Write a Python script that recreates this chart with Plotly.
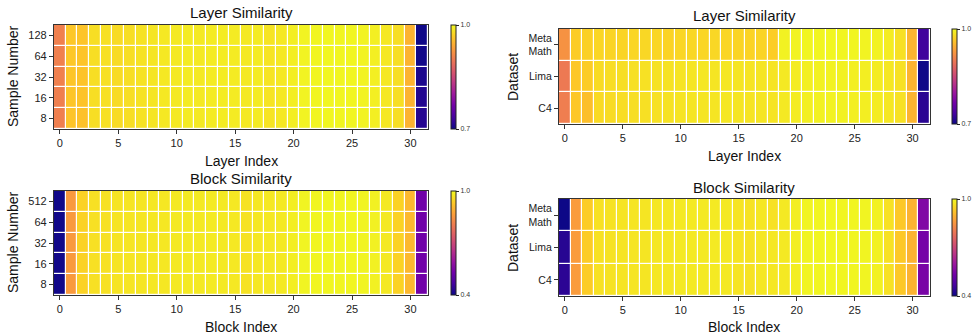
import plotly.graph_objects as go

W, H = 979, 335

layer_idx = list(range(32))
sample_labels_layer = ["8", "16", "32", "64", "128"]
sample_labels_block = ["8", "16", "32", "64", "512"]
dataset_labels = ["C4", "Lima", "Meta<br>Math"]
x_tick_vals = [0, 5, 10, 15, 20, 25, 30]

# Layer similarity vs sample number (rows: 8,16,32,64,128)
ls_s8 = [0.905, 0.962, 0.960, 0.981, 0.982, 0.979, 0.981, 0.984, 0.986, 0.988, 0.989, 0.990, 0.989, 0.990, 0.991, 0.990,
         0.989, 0.990, 0.985, 0.988, 0.992, 0.996, 0.997, 0.998, 0.997, 0.997, 0.996, 0.993, 0.988, 0.981, 0.949, 0.714]
ls_s16 = [0.905, 0.963, 0.961, 0.981, 0.982, 0.979, 0.981, 0.984, 0.986, 0.988, 0.989, 0.990, 0.989, 0.990, 0.991, 0.990,
          0.989, 0.990, 0.985, 0.988, 0.992, 0.996, 0.997, 0.998, 0.997, 0.997, 0.996, 0.993, 0.988, 0.981, 0.949, 0.712]
ls_s32 = [0.906, 0.963, 0.961, 0.981, 0.982, 0.979, 0.981, 0.984, 0.986, 0.988, 0.989, 0.990, 0.989, 0.990, 0.991, 0.990,
          0.989, 0.990, 0.985, 0.988, 0.992, 0.996, 0.997, 0.998, 0.997, 0.997, 0.996, 0.993, 0.988, 0.981, 0.949, 0.708]
ls_s64 = [0.906, 0.964, 0.962, 0.981, 0.982, 0.979, 0.981, 0.984, 0.986, 0.988, 0.989, 0.990, 0.989, 0.990, 0.991, 0.990,
          0.989, 0.990, 0.985, 0.988, 0.992, 0.996, 0.997, 0.998, 0.997, 0.997, 0.996, 0.993, 0.988, 0.981, 0.949, 0.703]
ls_s128 = [0.906, 0.964, 0.962, 0.981, 0.982, 0.979, 0.981, 0.984, 0.986, 0.988, 0.989, 0.990, 0.989, 0.990, 0.991, 0.990,
           0.989, 0.990, 0.985, 0.988, 0.992, 0.996, 0.997, 0.998, 0.997, 0.997, 0.996, 0.993, 0.988, 0.981, 0.949, 0.701]

# Layer similarity vs dataset (rows: C4, Lima, MetaMath)
ld_c4 = [0.904, 0.964, 0.958, 0.978, 0.979, 0.980, 0.981, 0.982, 0.983, 0.984, 0.985, 0.986, 0.986, 0.986, 0.987, 0.986,
         0.985, 0.986, 0.985, 0.989, 0.991, 0.993, 0.994, 0.995, 0.994, 0.993, 0.992, 0.991, 0.987, 0.983, 0.950, 0.717]
ld_lima = [0.900, 0.964, 0.968, 0.979, 0.980, 0.981, 0.982, 0.983, 0.984, 0.984, 0.985, 0.986, 0.987, 0.986, 0.987, 0.986,
           0.985, 0.986, 0.985, 0.989, 0.991, 0.993, 0.994, 0.995, 0.994, 0.993, 0.992, 0.991, 0.987, 0.983, 0.950, 0.701]
ld_meta = [0.922, 0.968, 0.971, 0.975, 0.974, 0.974, 0.975, 0.976, 0.975, 0.973, 0.975, 0.976, 0.975, 0.976, 0.975, 0.974,
           0.973, 0.974, 0.969, 0.995, 0.996, 0.997, 0.997, 0.998, 0.997, 0.997, 0.996, 0.995, 0.991, 0.982, 0.950, 0.730]

# Block similarity vs sample number (rows: 8,16,32,64,512)
bs_s8 = [0.406, 0.858, 0.944, 0.965, 0.966, 0.970, 0.971, 0.972, 0.974, 0.975, 0.977, 0.978, 0.978, 0.979, 0.978, 0.976,
         0.968, 0.975, 0.976, 0.978, 0.985, 0.993, 0.995, 0.996, 0.995, 0.994, 0.993, 0.989, 0.978, 0.944, 0.905, 0.532]
bs_s16 = [0.406, 0.858, 0.944, 0.965, 0.966, 0.970, 0.971, 0.972, 0.974, 0.975, 0.977, 0.978, 0.978, 0.979, 0.978, 0.976,
          0.968, 0.975, 0.976, 0.978, 0.985, 0.993, 0.995, 0.996, 0.995, 0.994, 0.993, 0.989, 0.978, 0.944, 0.905, 0.532]
bs_s32 = [0.406, 0.857, 0.944, 0.965, 0.966, 0.970, 0.971, 0.972, 0.974, 0.975, 0.977, 0.978, 0.978, 0.979, 0.978, 0.976,
          0.968, 0.975, 0.976, 0.978, 0.985, 0.993, 0.995, 0.996, 0.995, 0.994, 0.993, 0.989, 0.978, 0.944, 0.905, 0.531]
bs_s64 = [0.405, 0.857, 0.944, 0.965, 0.966, 0.970, 0.971, 0.972, 0.974, 0.975, 0.977, 0.978, 0.978, 0.979, 0.978, 0.976,
          0.968, 0.975, 0.976, 0.978, 0.985, 0.993, 0.995, 0.996, 0.995, 0.994, 0.993, 0.989, 0.978, 0.944, 0.905, 0.531]
bs_s512 = [0.405, 0.857, 0.944, 0.965, 0.966, 0.970, 0.971, 0.972, 0.974, 0.975, 0.977, 0.978, 0.978, 0.979, 0.978, 0.976,
           0.968, 0.975, 0.976, 0.978, 0.985, 0.993, 0.995, 0.996, 0.995, 0.994, 0.993, 0.989, 0.978, 0.944, 0.905, 0.530]

# Block similarity vs dataset (rows: C4, Lima, MetaMath)
bd_c4 = [0.436, 0.862, 0.936, 0.966, 0.968, 0.970, 0.971, 0.972, 0.974, 0.975, 0.977, 0.978, 0.978, 0.979, 0.978, 0.970,
         0.968, 0.975, 0.974, 0.978, 0.985, 0.993, 0.995, 0.996, 0.995, 0.994, 0.993, 0.988, 0.966, 0.930, 0.898, 0.544]
bd_lima = [0.430, 0.862, 0.936, 0.966, 0.968, 0.970, 0.971, 0.972, 0.974, 0.975, 0.977, 0.978, 0.978, 0.979, 0.978, 0.970,
           0.968, 0.975, 0.974, 0.978, 0.985, 0.993, 0.995, 0.996, 0.995, 0.994, 0.993, 0.988, 0.966, 0.930, 0.898, 0.538]
bd_meta = [0.400, 0.862, 0.936, 0.966, 0.968, 0.970, 0.971, 0.972, 0.974, 0.975, 0.977, 0.978, 0.978, 0.979, 0.978, 0.970,
           0.968, 0.975, 0.966, 0.978, 0.985, 0.993, 0.995, 0.996, 0.995, 0.994, 0.993, 0.988, 0.966, 0.930, 0.898, 0.556]

FONT = "Liberation Sans, Arial, sans-serif"
fig = go.Figure()

# pixel boxes: (x0, x1, y0_top, y1_bottom)
boxes = {
    1: (54, 428, 25, 129),
    2: (559, 930, 29, 124),
    3: (54, 428, 191, 295),
    4: (559, 930, 199, 296),
}
cbar_x = {1: 451, 2: 952, 3: 451, 4: 952}

panels = [
    (1, [ls_s8, ls_s16, ls_s32, ls_s64, ls_s128], sample_labels_layer, 0.7, 1.0, 11),
    (2, [ld_c4, ld_lima, ld_meta], dataset_labels, 0.7, 1.0, 10.5),
    (3, [bs_s8, bs_s16, bs_s32, bs_s64, bs_s512], sample_labels_block, 0.4, 1.0, 11),
    (4, [bd_c4, bd_lima, bd_meta], dataset_labels, 0.4, 1.0, 10.5),
]

for k, z, ylabels, zmin, zmax, yfs in panels:
    x0, x1, yt, yb = boxes[k]
    sfx = "" if k == 1 else str(k)
    fig.add_trace(go.Heatmap(
        z=z, x=layer_idx, y=list(range(len(ylabels))),
        colorscale="Plasma", zmin=zmin, zmax=zmax,
        xgap=1.2, ygap=1.2,
        xaxis="x" + sfx, yaxis="y" + sfx,
        hoverinfo="skip",
        colorbar=dict(
            x=cbar_x[k] / W, xanchor="left", xpad=0, ypad=0,
            y=1 - (yt + yb) / 2 / H, yanchor="middle",
            len=yb - yt, lenmode="pixels",
            thickness=5, thicknessmode="pixels",
            outlinewidth=1, outlinecolor="#222",
            tickvals=[zmin, zmax], ticktext=[f"{zmin:.1f}", f"{zmax:.1f}"],
            ticks="outside", ticklen=3, tickwidth=1, tickcolor="#222",
            tickfont=dict(size=7, color="#333", family=FONT),
        ),
    ))
    fig.layout["xaxis" + sfx] = dict(
        domain=[x0 / W, x1 / W], anchor="y" + sfx, range=[-0.5, 31.5],
        tickvals=x_tick_vals, ticks="outside", ticklen=4, tickwidth=1, tickcolor="#333",
        showline=True, mirror=True, linecolor="#333", linewidth=1.3,
        showgrid=False, zeroline=False,
        tickfont=dict(size=11, color="#222", family=FONT),
    )
    fig.layout["yaxis" + sfx] = dict(
        domain=[1 - yb / H, 1 - yt / H], anchor="x" + sfx, range=[-0.5, len(ylabels) - 0.5],
        tickvals=list(range(len(ylabels))), ticktext=ylabels,
        ticks="outside", ticklen=4, tickwidth=1, tickcolor="#333",
        showline=True, mirror=True, linecolor="#333", linewidth=1.3,
        showgrid=False, zeroline=False,
        tickfont=dict(size=yfs, color="#222", family=FONT),
    )

annots = [
    ("Layer Similarity", 241, 12, 0, 15),
    ("Layer Index", 241, 161, 0, 14),
    ("Sample Number", 13, 77, -90, 14),
    ("Layer Similarity", 744, 15, 0, 15),
    ("Layer Index", 744, 156, 0, 14),
    ("Dataset", 513, 77, -90, 14),
    ("Block Similarity", 241, 178, 0, 15),
    ("Block Index", 241, 327, 0, 14),
    ("Sample Number", 13, 243, -90, 14),
    ("Block Similarity", 744, 187, 0, 15),
    ("Block Index", 744, 327, 0, 14),
    ("Dataset", 513, 248, -90, 14),
]
for text, px, py, ang, fs in annots:
    fig.add_annotation(
        text=text, x=px / W, y=1 - py / H, xref="paper", yref="paper",
        xanchor="center", yanchor="middle", showarrow=False, textangle=ang,
        font=dict(size=fs, color="#111", family=FONT),
    )

fig.update_layout(
    width=W, height=H, margin=dict(l=0, r=0, t=0, b=0),
    paper_bgcolor="white", plot_bgcolor="white",
    font=dict(family=FONT),
)

fig.write_html("out.html")
